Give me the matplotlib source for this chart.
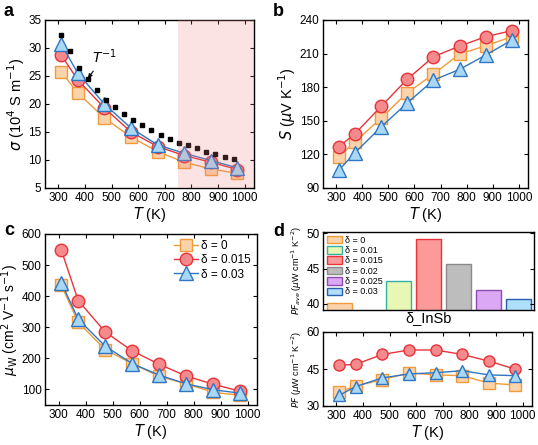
import numpy as np
import matplotlib.pyplot as plt

# temperatures (K)
T = [310, 373, 473, 573, 673, 773, 873, 973]

# panel a: electrical conductivity (10^4 S/m)
sigma_0 = [25.8, 22.0, 17.5, 14.1, 11.5, 9.6, 8.4, 7.6]
sigma_015 = [28.8, 24.3, 19.3, 15.0, 12.4, 10.8, 9.6, 8.3]
sigma_03 = [30.8, 25.5, 20.0, 15.7, 12.7, 11.2, 9.9, 8.6]
T_inv = [309, 345, 379, 411, 445, 480, 514, 547, 581, 616,
         650, 684, 719, 752, 786, 821, 855, 890, 925, 960]
sigma_inv = [32.3, 29.4, 26.4, 24.4, 22.5, 20.7, 19.4, 18.2, 17.1, 16.2,
             15.3, 14.5, 13.8, 13.1, 12.6, 12.1, 11.5, 11.1, 10.6, 10.2]

# panel b: Seebeck (uV/K)
S_0 = [117.7, 131.1, 152.6, 175.0, 191.7, 209.6, 217.0, 225.1]
S_015 = [126.7, 138.6, 163.0, 187.2, 207.2, 216.7, 225.1, 230.5]
S_03 = [105.8, 121.6, 144.6, 166.0, 186.3, 195.9, 208.7, 222.0]

# panel c: weighted mobility
mu_0 = [436, 316, 228, 183, 142, 118, 91, 81]
mu_015 = [549, 386, 285, 224, 181, 143, 117, 94]
mu_03 = [444, 326, 239, 183, 146, 118, 99, 88]

# panel d: average PF per composition, and PF vs T
deltas = [0, 0.01, 0.015, 0.02, 0.025, 0.03]
delta_labels = ['δ = 0', 'δ = 0.01', 'δ = 0.015', 'δ = 0.02', 'δ = 0.025', 'δ = 0.03']
pf_ave = [40.1, 43.2, 49.2, 45.6, 42.0, 40.7]
PF_0 = [35.7, 38.1, 40.7, 43.4, 42.6, 42.3, 39.3, 38.5]
PF_015 = [46.5, 46.9, 50.9, 52.7, 52.7, 50.9, 48.2, 44.9]
PF_03 = [34.3, 37.9, 41.4, 43.0, 43.5, 44.3, 42.6, 42.3]

orange = ('#f29b3c', '#fbd3aa')
red = ('#e8333a', '#f48a8c')
blue = ('#2f77c4', '#a8d8f4')
bar_edges = ['#f29b3c', '#35b0a4', '#e8333a', '#8a8a8a', '#8f4bb0', '#2a5fb0']
bar_faces = ['#fbd3aa', '#e8f8b4', '#fc9a9a', '#bdbdbd', '#daa8f5', '#aee0fb']

plt.rcParams['font.family'] = ['Arial', 'Liberation Sans', 'DejaVu Sans']
plt.rcParams['font.size'] = 8.5
plt.rcParams['axes.linewidth'] = 1.0
plt.rcParams['xtick.direction'] = 'in'
plt.rcParams['ytick.direction'] = 'in'
plt.rcParams['xtick.top'] = True
plt.rcParams['ytick.right'] = True
plt.rcParams['xtick.major.size'] = 3
plt.rcParams['ytick.major.size'] = 3
plt.rcParams['xtick.major.pad'] = 3
plt.rcParams['ytick.major.pad'] = 2.5

fig = plt.figure(figsize=(5.38, 4.45), dpi=100)
W, H = 538, 445


def add_ax(l, t, r, b):
    return fig.add_axes([l / W, 1 - b / H, (r - l) / W, (b - t) / H])


def series(ax, y, style, marker, ms=9, label=None):
    ax.plot(T, y, '-', color=style[0], lw=1.0, marker=marker, ms=ms,
            mfc=style[1], mec=style[0], mew=1.0, label=label)


def tx(ax):
    ax.set_xlim(250, 1035)
    ax.set_xticks(range(300, 1001, 100))
    ax.set_xlabel('$T$ (K)', fontsize=10.5, labelpad=0.5)


# ---- a ----
ax = add_ax(45, 20, 254, 188)
series(ax, sigma_0, orange, 's')
series(ax, sigma_015, red, 'o')
series(ax, sigma_03, blue, '^', ms=10)
ax.plot(T_inv, sigma_inv, 's', color='black', ms=3.2, zorder=5)
ax.axvspan(750, 1100, color='#f08080', alpha=0.22, lw=0, zorder=10)
ax.annotate('$T^{-1}$', xy=(405, 24.2), xytext=(425, 27.3), fontsize=10,
            arrowprops=dict(arrowstyle='-|>', color='black', lw=0.8, mutation_scale=6))
tx(ax)
ax.set_ylim(5, 35)
ax.set_yticks(range(5, 36, 5))
ax.set_ylabel(r'$\sigma$ (10$^4$ S m$^{-1}$)', fontsize=10.5, labelpad=1)
fig.text(4 / W, 1 - 12 / H, 'a', fontsize=13, fontweight='bold', va='center')

# ---- b ----
ax = add_ax(323, 20, 528, 188)
series(ax, S_0, orange, 's')
series(ax, S_015, red, 'o')
series(ax, S_03, blue, '^', ms=10)
tx(ax)
ax.set_ylim(90, 240)
ax.set_yticks(range(90, 241, 30))
ax.set_ylabel(r'$S$ ($\mu$V K$^{-1}$)', fontsize=10.5, labelpad=1)
fig.text(273 / W, 1 - 12 / H, 'b', fontsize=13, fontweight='bold', va='center')

# ---- c ----
ax = add_ax(45, 234, 257, 405)
series(ax, mu_0, orange, 's', label='δ = 0')
series(ax, mu_015, red, 'o', label='δ = 0.015')
series(ax, mu_03, blue, '^', ms=10, label='δ = 0.03')
tx(ax)
ax.set_ylim(50, 600)
ax.set_yticks(range(100, 601, 100))
ax.set_ylabel(r'$\mu_{\rm W}$ (cm$^2$ V$^{-1}$ s$^{-1}$)', fontsize=10, labelpad=0.5)
ax.legend(loc='upper right', frameon=False, fontsize=8.5, handlelength=2.0,
          handletextpad=0.3, labelspacing=0.2, borderpad=0.2, borderaxespad=0.3)
fig.text(4 / W, 1 - 230 / H, 'c', fontsize=13, fontweight='bold', va='center')

# ---- d top ----
ax = add_ax(323, 232, 534, 310)
for d, v, ec, fc, lab in zip(deltas, pf_ave, bar_edges, bar_faces, delta_labels):
    ax.bar(d, v - 38, width=0.0042, bottom=38, color=fc, edgecolor=ec, lw=1.0, label=lab)
ax.set_xlim(-0.0027, 0.0326)
ax.set_ylim(39.1, 50.2)
ax.set_yticks([40, 45, 50])
ax.set_xticks([])
ax.tick_params(axis='x', top=False, bottom=False)
ax.set_xlabel('δ_InSb', fontsize=10.5, labelpad=1)
ax.set_ylabel(r'$PF_{ave}$ ($\mu$W cm$^{-1}$ K$^{-2}$)', fontsize=6.5, labelpad=2)
ax.legend(loc='upper left', frameon=False, fontsize=6.5, handlelength=1.7,
          handleheight=0.9, handletextpad=0.3, labelspacing=0.15,
          borderpad=0.2, borderaxespad=0.2)
fig.text(273 / W, 1 - 232 / H, 'd', fontsize=13, fontweight='bold', va='center')

# ---- d bottom ----
ax = add_ax(323, 332, 532, 406)
series(ax, PF_0, orange, 's', ms=8)
series(ax, PF_015, red, 'o', ms=8)
series(ax, PF_03, blue, '^', ms=9)
tx(ax)
ax.set_ylim(30, 60)
ax.set_yticks([30, 45, 60])
ax.set_ylabel(r'$PF$ ($\mu$W cm$^{-1}$ K$^{-2}$)', fontsize=6.5, labelpad=2)

fig.savefig('out.png', dpi=100)
